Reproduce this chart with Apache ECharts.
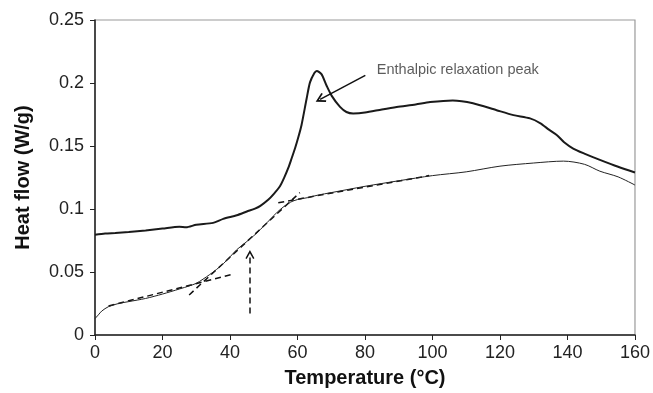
<!DOCTYPE html>
<html><head><meta charset="utf-8">
<script src="https://cdn.jsdelivr.net/npm/echarts@6/dist/echarts.min.js"></script>
<style>html,body{margin:0;padding:0;background:#fff}#c{width:653px;height:393px}</style>
</head><body><div id="c"></div>
<script>
// Upper curve (aged sample, with enthalpic relaxation peak)
const upperX = [0,3,6,10,15,20,25,27,30,35,38,42,45,47.4,49,51.4,53,54.8,56,57.3,58.3,59.3,60.3,61.2,62.7,63.7,65,65.7,67.1,68.6,70.1,72.6,74.5,76.5,80,85,89.4,95,99.3,106,112,119,124,128.9,132,134.5,136.8,139,141.7,145,149.6,155,160];
const upperY = [0.0795,0.0805,0.081,0.0818,0.083,0.0845,0.086,0.0855,0.0875,0.089,0.0922,0.095,0.098,0.1003,0.1025,0.1075,0.112,0.118,0.1245,0.1328,0.1405,0.1484,0.1575,0.1667,0.1875,0.2005,0.208,0.2096,0.207,0.198,0.190,0.181,0.177,0.1758,0.1765,0.179,0.181,0.183,0.1849,0.1862,0.184,0.1784,0.1745,0.1719,0.168,0.163,0.1588,0.153,0.148,0.144,0.139,0.1335,0.129];
// Lower curve (reference scan)
const lowerX = [0,1,2,4,7,10,15,20,25,28,30,32,34,36,38,40,42,44,46,48,50,52,54,56,58,60,63,66,70,80,90,100,110,120,130,138.8,145,149.6,155,160];
const lowerY = [0.013,0.016,0.019,0.0225,0.025,0.0265,0.029,0.0325,0.0365,0.039,0.041,0.0443,0.048,0.052,0.0565,0.062,0.0677,0.072,0.0765,0.081,0.0865,0.092,0.0975,0.102,0.1055,0.1075,0.109,0.111,0.113,0.118,0.1224,0.1265,0.1295,0.134,0.1365,0.138,0.1355,0.130,0.1255,0.119];
// Dashed tangent lines [x1,y1,x2,y2]
const tangentLow = [4, 0.023, 40.5, 0.048];
const tangentMid = [27.9, 0.0318, 60.7, 0.113];
const tangentHigh = [54.3, 0.105, 99, 0.1265];
// Vertical dashed arrow (Tg)
const tgArrow = [45.9, 0.017, 45.9, 0.0638];
// Annotation arrow and text
const peakArrow = [80.1, 0.206, 66.7, 0.187];
const peakText = 'Enthalpic relaxation peak';
const peakTextPos = [83.5, 0.2105];
const xTicks = {min: 0, max: 160, interval: 20};
const yTicks = {min: 0, max: 0.25, interval: 0.05};

const zip = (xs, ys) => xs.map((x, i) => [x, ys[i]]);
const seg = a => [[a[0], a[1]], [a[2], a[3]]];
const chevron = 'path://M5,0 L10,9 L8.6,10 L5,3.6 L1.4,10 L0,9 Z';

const chart = echarts.init(document.getElementById('c'), null, {renderer: 'canvas'});
const dashLine = (a) => ({
  type: 'line', data: seg(a), symbol: 'none', silent: true, z: 3,
  lineStyle: {color: '#111', width: 1.5, type: [6, 4]}
});
chart.setOption({
  animation: false,
  textStyle: {fontFamily: 'Liberation Sans, Arial, sans-serif'},
  grid: {left: 95, right: 18, top: 20, bottom: 53, show: true, borderColor: '#9a9a9a', borderWidth: 1.2},
  xAxis: {
    type: 'value', min: xTicks.min, max: xTicks.max, interval: xTicks.interval,
    name: 'Temperature (°C)', nameLocation: 'middle', nameGap: 33,
    nameTextStyle: {fontSize: 20, fontWeight: 'bold', color: '#111'},
    axisLine: {lineStyle: {color: '#222', width: 1.5}},
    axisTick: {show: true, length: 5, lineStyle: {color: '#222'}},
    axisLabel: {fontSize: 18, color: '#222', margin: 9},
    splitLine: {show: false}
  },
  yAxis: {
    type: 'value', min: yTicks.min, max: yTicks.max, interval: yTicks.interval,
    name: 'Heat flow (W/g)', nameLocation: 'middle', nameGap: 62,
    nameTextStyle: {fontSize: 20, fontWeight: 'bold', color: '#111'},
    axisLine: {show: true, lineStyle: {color: '#222', width: 1.5}},
    axisTick: {show: true, length: 5, lineStyle: {color: '#222'}},
    axisLabel: {fontSize: 18, color: '#222', margin: 11},
    splitLine: {show: false}
  },
  series: [
    {type: 'line', data: zip(upperX, upperY), symbol: 'none', smooth: 0.25, z: 4,
     lineStyle: {color: '#1a1a1a', width: 2}},
    {type: 'line', data: zip(lowerX, lowerY), symbol: 'none', smooth: 0.3, z: 4,
     lineStyle: {color: '#222', width: 1}},
    dashLine(tangentLow), dashLine(tangentMid), dashLine(tangentHigh),
    {type: 'lines', coordinateSystem: 'cartesian2d', silent: true, z: 5,
     symbol: ['none', chevron], symbolSize: [9, 9],
     lineStyle: {color: '#111', width: 1.5, type: [6, 4], opacity: 1},
     data: [{coords: seg(tgArrow)}]},
    {type: 'lines', coordinateSystem: 'cartesian2d', silent: true, z: 5,
     symbol: ['none', chevron], symbolSize: [10, 10],
     lineStyle: {color: '#111', width: 1.5, opacity: 1},
     data: [{coords: seg(peakArrow)}]},
    {type: 'scatter', data: [peakTextPos], symbolSize: 0, silent: true, z: 6,
     label: {show: true, position: 'right', distance: 0, formatter: peakText,
             fontSize: 14.5, color: '#333', fontFamily: 'Liberation Sans, Arial, sans-serif'}}
  ]
});
</script></body></html>
